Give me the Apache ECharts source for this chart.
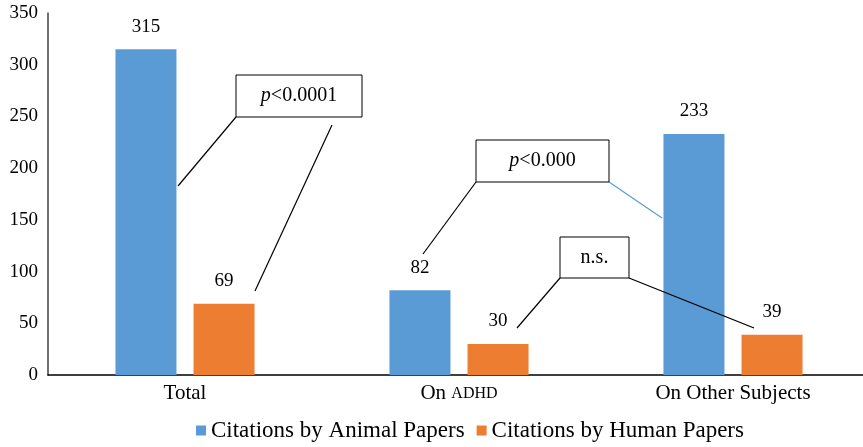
<!DOCTYPE html>
<html lang="en">
<head>
    <meta charset="utf-8">
    <title>Citations</title>
    <style>
        * {
            margin: 0;
            padding: 0;
        }

        body {
            overflow: hidden;
        }

        /* a bit wider than the window: the x axis runs past the right edge */
        #chart {
            width: 870px;
            height: 447px;
            background: #fff;
        }
    </style>
</head>
<body>
<div id="chart"></div>
<script src="https://cdn.jsdelivr.net/npm/echarts@6/dist/echarts.min.js"></script>
<script>
    // data
    const categories = ['Total', 'On ADHD', 'On Other Subjects'];
    const animalCitations = [315, 82, 233];
    const humanCitations = [69, 30, 39];
    const seriesNames = ['Citations by Animal Papers', 'Citations by Human Papers'];

    const FONT = '"Liberation Serif", "DejaVu Serif", serif';

    const chart = echarts.init(document.getElementById('chart'), null, {renderer: 'canvas'});

    // annotation boxes (pixels) and leader lines
    function box(x, y, w, h, rich) {
        return {
            type: 'group',
            z: 100,
            children: [
                {
                    type: 'rect',
                    z: 100,
                    shape: {x: x, y: y, width: w, height: h},
                    style: {fill: '#fff', stroke: '#000', lineWidth: 1}
                },
                {
                    type: 'text',
                    z: 101,
                    x: x + w / 2,
                    y: y + h / 2,
                    style: {
                        text: rich.text,
                        rich: rich.rich,
                        align: 'center',
                        verticalAlign: 'middle',
                        fontFamily: FONT,
                        fontSize: 20,
                        fill: '#000'
                    }
                }
            ]
        };
    }

    function line(x1, y1, x2, y2, color) {
        return {
            type: 'line',
            z: 100,
            shape: {x1: x1, y1: y1, x2: x2, y2: y2},
            style: {stroke: color || '#000', lineWidth: 1.2}
        };
    }

    const pRich = {
        p: {fontStyle: 'italic', fontFamily: FONT, fontSize: 20},
        t: {fontFamily: FONT, fontSize: 20}
    };

    const option = {
        backgroundColor: '#fff',
        animation: false,
        grid: {left: 48, top: 13, right: 0, height: 362, containLabel: false},
        legend: {
            data: seriesNames,
            bottom: 0,
            left: 191,
            itemWidth: 10,
            itemHeight: 10,
            itemGap: 12,
            icon: 'rect',
            textStyle: {fontFamily: FONT, fontSize: 23, color: '#000'}
        },
        xAxis: {
            type: 'category',
            data: categories,
            axisLine: {lineStyle: {color: '#000', width: 1.5}},
            axisTick: {show: false},
            axisLabel: {
                fontFamily: FONT,
                fontSize: 21,
                color: '#000',
                margin: 8,
                formatter: v => v.replace('ADHD', '{sc|ADHD}'),
                rich: {sc: {fontFamily: FONT, fontSize: 16, color: '#000'}}
            }
        },
        yAxis: {
            type: 'value',
            min: 0,
            max: 350,
            interval: 50,
            axisLine: {show: true, lineStyle: {color: '#404040', width: 1.5}},
            axisTick: {show: false},
            splitLine: {show: false},
            axisLabel: {fontFamily: FONT, fontSize: 19, color: '#000', margin: 10}
        },
        series: [
            {
                name: seriesNames[0],
                type: 'bar',
                data: animalCitations,
                barWidth: 61,
                barGap: '28%',
                itemStyle: {color: '#5B9BD5'},
                label: {show: true, position: 'top', distance: 13, fontFamily: FONT, fontSize: 19, color: '#000'}
            },
            {
                name: seriesNames[1],
                type: 'bar',
                data: humanCitations,
                barWidth: 61,
                itemStyle: {color: '#ED7D31'},
                label: {show: true, position: 'top', distance: 13, fontFamily: FONT, fontSize: 19, color: '#000'}
            }
        ],
        graphic: [
            line(178, 186, 236, 117),
            line(255, 291, 332, 125),
            box(236, 75, 126, 42, {text: '{p|p}{t|<0.0001}', rich: pRich}),
            line(423, 254, 476, 182),
            line(609, 182, 662, 218, '#5B9BD5'),
            box(476, 140, 133, 42, {text: '{p|p}{t|<0.000}', rich: pRich}),
            line(517, 328, 560, 278),
            line(629, 278, 754, 328),
            box(560, 237, 69, 41, {text: 'n.s.', rich: {}})
        ]
    };

    chart.setOption(option);
</script>
</body>
</html>
